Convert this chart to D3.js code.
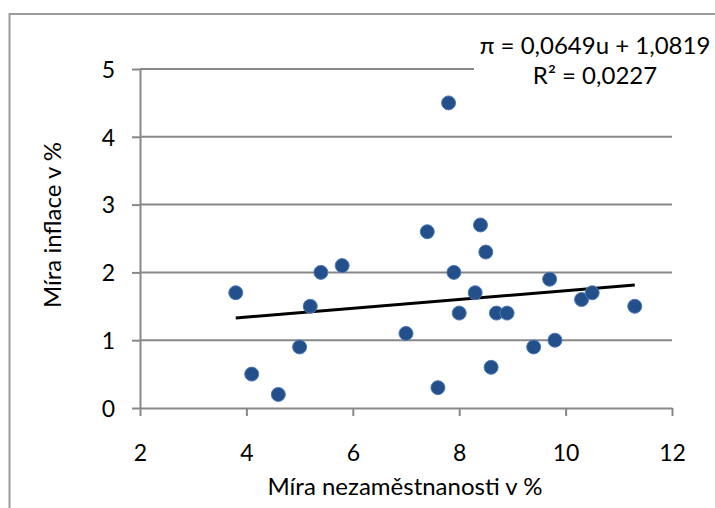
<!DOCTYPE html>
<meta charset="utf-8">
<head>
  <title>Míra inflace vs. míra nezaměstnanosti</title>
  <style>
    body { margin: 0; background: #fff; }
    svg { display: block; background: #fff; }
    .tick text { font-family: Lato, "Liberation Sans", sans-serif; font-size: 23px; fill: #000; }
    .axis path, .axis line { stroke: #888; stroke-width: 2; }
    .grid line { stroke: #888; stroke-width: 2; }
    .dot { fill: #234f8b; stroke: #4f7bb5; stroke-width: 1; }
    .label { font-family: Lato, "Liberation Sans", sans-serif; font-size: 24px; fill: #000; }
  </style>
</head>
<body>
<script src="https://cdn.jsdelivr.net/npm/d3@7"></script>
<script>

// unemployment rate (x) and inflation rate (y), in %
var unemployment = [3.8, 4.1, 4.6, 5.0, 5.2, 5.4, 5.8, 7.0, 7.4, 7.6, 7.8, 7.9, 8.0, 8.3, 8.4, 8.5, 8.6, 8.7, 8.9, 9.4, 9.7, 9.8, 10.3, 10.5, 11.3];
var inflation    = [1.7, 0.5, 0.2, 0.9, 1.5, 2.0, 2.1, 1.1, 2.6, 0.3, 4.5, 2.0, 1.4, 1.7, 2.7, 2.3, 0.6, 1.4, 1.4, 0.9, 1.9, 1.0, 1.6, 1.7, 1.5];

var xTicks = [2, 4, 6, 8, 10, 12];
var yTicks = [0, 1, 2, 3, 4, 5];

// linear trend as printed on the chart
var slope = 0.0649, intercept = 1.0819;
var eqLines = ["\u03c0 = 0,0649u + 1,0819", "R\u00b2 = 0,0227"];

var W = 715, H = 508;
var margin = {top: 69, right: 43, bottom: 100, left: 140},
    width = W - margin.left - margin.right,
    height = H - margin.top - margin.bottom;

var svg = d3.select("body").append("svg")
    .attr("width", W)
    .attr("height", H);

// chart area border
svg.append("rect")
    .attr("x", 9.5).attr("y", 14)
    .attr("width", W + 10).attr("height", H + 10)
    .attr("fill", "none")
    .attr("stroke", "#9c9c9c")
    .attr("stroke-width", 2);

var g = svg.append("g")
    .attr("transform", "translate(" + margin.left + "," + margin.top + ")");

var x = d3.scaleLinear().domain([2, 12]).range([0, width]);
var y = d3.scaleLinear().domain([0, 5]).range([height, 0]);

// horizontal gridlines
g.append("g").attr("class", "grid")
  .selectAll("line")
  .data(yTicks.filter(function(d) { return d > 0; }))
  .enter().append("line")
    .attr("x1", 0).attr("x2", width)
    .attr("y1", function(d) { return y(d); })
    .attr("y2", function(d) { return y(d); });

// axes
var xAxis = g.append("g").attr("class", "axis")
    .attr("transform", "translate(0," + height + ")")
    .call(d3.axisBottom(x).tickValues(xTicks).tickFormat(d3.format("d")).tickSize(8).tickSizeOuter(0));
xAxis.selectAll(".tick text").attr("y", 45).attr("dy", "0.36em");

var yAxis = g.append("g").attr("class", "axis")
    .call(d3.axisLeft(y).tickValues(yTicks).tickFormat(d3.format("d")).tickSize(8).tickSizeOuter(0));
yAxis.selectAll(".tick text").attr("x", -25).attr("dy", "0.36em");

// trend line over the data range
var xExt = d3.extent(unemployment);
g.append("line")
    .attr("x1", x(xExt[0])).attr("y1", y(slope * xExt[0] + intercept))
    .attr("x2", x(xExt[1])).attr("y2", y(slope * xExt[1] + intercept))
    .attr("stroke", "#000")
    .attr("stroke-width", 3);

// points
g.selectAll(".dot")
    .data(unemployment)
  .enter().append("circle")
    .attr("class", "dot")
    .attr("cx", function(d) { return x(d); })
    .attr("cy", function(d, i) { return y(inflation[i]); })
    .attr("r", 7);

// equation label with white box
svg.append("rect")
    .attr("x", 474).attr("y", 28)
    .attr("width", 240).attr("height", 60)
    .attr("fill", "#fff");

svg.selectAll(".eq")
    .data(eqLines)
  .enter().append("text")
    .attr("class", "label eq")
    .attr("x", 595)
    .attr("y", function(d, i) { return 45 + i * 30; })
    .attr("dy", "0.36em")
    .attr("text-anchor", "middle")
    .text(function(d) { return d; });

// axis titles
svg.append("text")
    .attr("class", "label")
    .attr("x", 405)
    .attr("y", 495)
    .attr("text-anchor", "middle")
    .text("Míra nezaměstnanosti v %");

svg.append("text")
    .attr("class", "label")
    .attr("transform", "translate(61,225) rotate(-90)")
    .attr("text-anchor", "middle")
    .text("Míra inflace v %");

</script>
</body>
